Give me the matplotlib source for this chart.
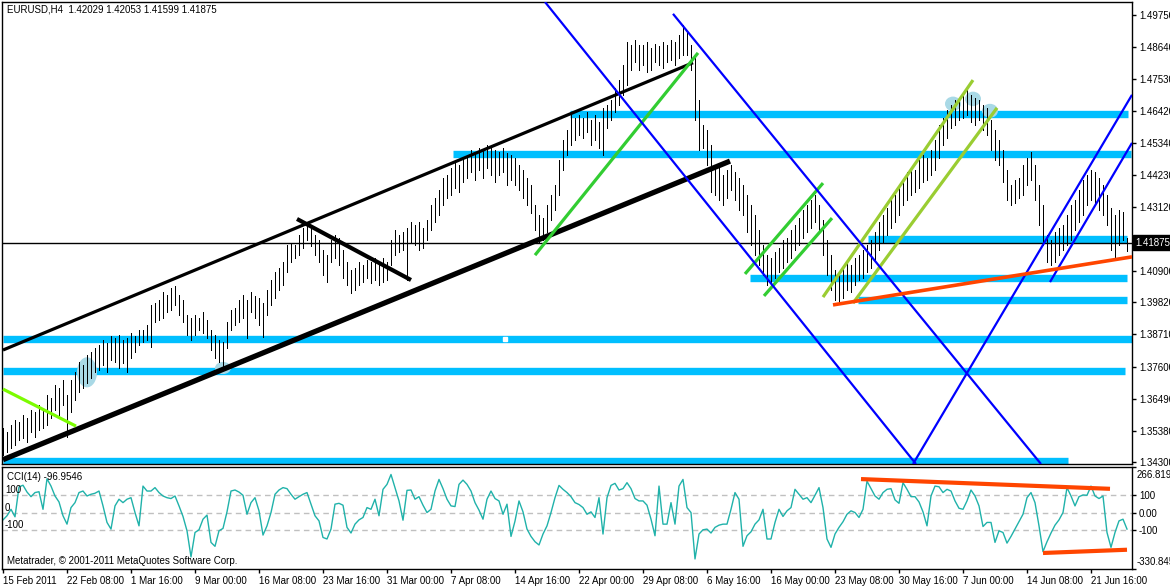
import numpy as np
import matplotlib
matplotlib.use('Agg')
import matplotlib.pyplot as plt
from matplotlib.patches import Ellipse

# H4 bars (one slot = 4 px on the screen)
hi = [
    1.3547, 1.3533, 1.3558, 1.3575, 1.3568, 1.3592, 1.3582, 1.3609, 1.3602, 1.3627, 1.3616, 1.3662, 1.3651, 1.3696, 1.3686, 1.3713,
    1.3662, 1.3713, 1.3741, 1.3775, 1.3765, 1.3799, 1.3810, 1.3824, 1.3834, 1.3851, 1.3841, 1.3865, 1.3858, 1.3869, 1.3851, 1.3858,
    1.3876, 1.3865, 1.3886, 1.3886, 1.3903, 1.3972, 1.3979, 1.3990, 1.4017, 1.4007, 1.4031, 1.4038, 1.4007, 1.3990, 1.3938, 1.3928,
    1.3938, 1.3928, 1.3948, 1.3921, 1.3886, 1.3869, 1.3851, 1.3844, 1.3914, 1.3955, 1.3962, 1.3990, 1.4007, 1.3990, 1.4017, 1.4003,
    1.3996, 1.3979, 1.4024, 1.4059, 1.4087, 1.4101, 1.4121, 1.4180, 1.4187, 1.4180, 1.4214, 1.4239, 1.4249, 1.4239, 1.4214, 1.4197,
    1.4163, 1.4145, 1.4197, 1.4214, 1.4204, 1.4163, 1.4121, 1.4094, 1.4101, 1.4121, 1.4111, 1.4128, 1.4121, 1.4135, 1.4121, 1.4135,
    1.4121, 1.4197, 1.4232, 1.4214, 1.4225, 1.4239, 1.4259, 1.4249, 1.4259, 1.4239, 1.4266, 1.4318, 1.4343, 1.4370, 1.4412, 1.4422,
    1.4446, 1.4467, 1.4457, 1.4481, 1.4491, 1.4508, 1.4501, 1.4515, 1.4508, 1.4526, 1.4515, 1.4508, 1.4501, 1.4515, 1.4498, 1.4491,
    1.4481, 1.4457, 1.4439, 1.4412, 1.4388, 1.4318, 1.4284, 1.4273, 1.4318, 1.4353, 1.4388, 1.4474, 1.4543, 1.4578, 1.4629, 1.4619,
    1.4629, 1.4619, 1.4640, 1.4612, 1.4629, 1.4605, 1.4654, 1.4664, 1.4681, 1.4723, 1.4751, 1.4803, 1.4882, 1.4872, 1.4889, 1.4872,
    1.4872, 1.4882, 1.4861, 1.4875, 1.4868, 1.4882, 1.4872, 1.4889, 1.4882, 1.4906, 1.4941, 1.4917, 1.4872, 1.4837, 1.4681, 1.4595,
    1.4578, 1.4526, 1.4457, 1.4446, 1.4422, 1.4439, 1.4457, 1.4432, 1.4412, 1.4388, 1.4353, 1.4318, 1.4284, 1.4232, 1.4180, 1.4145,
    1.4135, 1.4156, 1.4170, 1.4197, 1.4204, 1.4232, 1.4249, 1.4273, 1.4301, 1.4318, 1.4336, 1.4353, 1.4318, 1.4266, 1.4197, 1.4145,
    1.4094, 1.4076, 1.4101, 1.4121, 1.4111, 1.4135, 1.4145, 1.4163, 1.4180, 1.4197, 1.4225, 1.4259, 1.4284, 1.4308, 1.4336, 1.4353,
    1.4388, 1.4405, 1.4432, 1.4446, 1.4439, 1.4474, 1.4491, 1.4481, 1.4508, 1.4543, 1.4595, 1.4619, 1.4647, 1.4664, 1.4681, 1.4688,
    1.4699, 1.4716, 1.4699, 1.4688, 1.4681, 1.4664, 1.4654, 1.4612, 1.4578, 1.4543, 1.4508, 1.4439, 1.4388, 1.4405, 1.4412, 1.4457,
    1.4481, 1.4501, 1.4457, 1.4388, 1.4318, 1.4214, 1.4197, 1.4225, 1.4239, 1.4249, 1.4284, 1.4318, 1.4336, 1.4370, 1.4405, 1.4422,
    1.4439, 1.4432, 1.4412, 1.4388, 1.4353, 1.4308, 1.4284, 1.4301, 1.4294, 1.4205]
lo = [
    1.3454, 1.3464, 1.3478, 1.3489, 1.3506, 1.3512, 1.3499, 1.3533, 1.3516, 1.3540, 1.3547, 1.3558, 1.3582, 1.3609, 1.3592, 1.3627,
    1.3516, 1.3602, 1.3644, 1.3672, 1.3686, 1.3703, 1.3720, 1.3741, 1.3748, 1.3765, 1.3741, 1.3782, 1.3775, 1.3755, 1.3772, 1.3741,
    1.3789, 1.3810, 1.3834, 1.3844, 1.3851, 1.3827, 1.3914, 1.3921, 1.3928, 1.3948, 1.3955, 1.3972, 1.3938, 1.3914, 1.3869, 1.3851,
    1.3869, 1.3886, 1.3876, 1.3858, 1.3817, 1.3789, 1.3775, 1.3762, 1.3824, 1.3886, 1.3903, 1.3914, 1.3928, 1.3858, 1.3948, 1.3928,
    1.3903, 1.3862, 1.3938, 1.3972, 1.3996, 1.4024, 1.4041, 1.4087, 1.4121, 1.4135, 1.4145, 1.4170, 1.4197, 1.4176, 1.4145, 1.4121,
    1.4076, 1.4052, 1.4121, 1.4135, 1.4111, 1.4066, 1.4041, 1.4014, 1.4024, 1.4041, 1.4052, 1.4066, 1.4048, 1.4059, 1.4041, 1.4052,
    1.4059, 1.4111, 1.4145, 1.4156, 1.4163, 1.4059, 1.4190, 1.4180, 1.4163, 1.4170, 1.4197, 1.4232, 1.4259, 1.4284, 1.4318, 1.4343,
    1.4353, 1.4377, 1.4363, 1.4398, 1.4412, 1.4432, 1.4405, 1.4439, 1.4412, 1.4446, 1.4422, 1.4398, 1.4422, 1.4432, 1.4388, 1.4405,
    1.4388, 1.4370, 1.4343, 1.4318, 1.4291, 1.4232, 1.4187, 1.4197, 1.4225, 1.4266, 1.4301, 1.4353, 1.4439, 1.4491, 1.4526, 1.4543,
    1.4560, 1.4550, 1.4571, 1.4526, 1.4543, 1.4515, 1.4491, 1.4585, 1.4612, 1.4640, 1.4664, 1.4699, 1.4733, 1.4785, 1.4813, 1.4785,
    1.4803, 1.4778, 1.4785, 1.4813, 1.4803, 1.4792, 1.4813, 1.4820, 1.4803, 1.4827, 1.4837, 1.4837, 1.4785, 1.4612, 1.4508, 1.4515,
    1.4457, 1.4363, 1.4353, 1.4336, 1.4318, 1.4343, 1.4370, 1.4336, 1.4301, 1.4284, 1.4225, 1.4180, 1.4145, 1.4111, 1.4076, 1.4041,
    1.4041, 1.4066, 1.4087, 1.4101, 1.4121, 1.4135, 1.4163, 1.4180, 1.4204, 1.4225, 1.4239, 1.4259, 1.4225, 1.4145, 1.4076, 1.4024,
    1.3990, 1.3979, 1.3996, 1.4024, 1.4017, 1.4041, 1.4059, 1.4066, 1.4087, 1.4101, 1.4128, 1.4163, 1.4190, 1.4214, 1.4239, 1.4259,
    1.4284, 1.4318, 1.4336, 1.4353, 1.4363, 1.4377, 1.4398, 1.4405, 1.4422, 1.4439, 1.4481, 1.4526, 1.4550, 1.4585, 1.4595, 1.4612,
    1.4619, 1.4629, 1.4605, 1.4595, 1.4612, 1.4578, 1.4560, 1.4508, 1.4474, 1.4457, 1.4398, 1.4336, 1.4318, 1.4325, 1.4343, 1.4353,
    1.4388, 1.4405, 1.4336, 1.4249, 1.4180, 1.4121, 1.4111, 1.4121, 1.4145, 1.4163, 1.4180, 1.4197, 1.4232, 1.4259, 1.4284, 1.4318,
    1.4336, 1.4318, 1.4301, 1.4284, 1.4249, 1.4163, 1.4135, 1.4180, 1.4197, 1.4160]
last_close = 1.41875

cci = [
    -43, -19, 19, -25, 150, 160, 120, 93, 117, 122, 19, 198, 155, 97, 62, -19,
    -68, 29, 58, 117, 126, 97, 107, 113, 126, 39, -58, -97, 39, 78, 58, 78,
    87, 0, -78, 155, 126, 126, 146, 117, 97, 87, 82, 97, 39, -23, -107, -260,
    -117, -101, -39, -15, -175, -198, -107, -93, 4, 126, 132, 120, 101, -10, 58, 87,
    10, -132, -78, 0, 107, 132, 146, 140, 107, 78, 93, 107, 117, 49, -19, -49,
    -146, -155, -97, 49, 54, 43, -87, -120, -68, -43, -29, 29, 19, 78, -19, 136,
    165, 223, 146, 68,
    -45, 130, 132, 78, 93, 43, 0, 19, 126, 194, 140, 78, 39, 35, 165, 190,
    165, 126, 58, 14, -39, 78, 126, 82, 68, -10, 49, -140, -50, 68, 4, -97,
    -140, -171, -190, -126, -78, 0, 87, 159, 136, 117, 93, 58, 47, 29, -10, 4,
    -29, 87, -126, 87, 159, 171, 132, 140, 175, 140, 82, 68, 68, 43, -39, -136,
    155, -68, -68, 58, -68, 155, 194, 29, 0, -272, -126, -101, -97, -120, -87, -74,
    -68, -68, 19, 117, 78, -198, -136, -113, -68, -43, 19, -155, -155, -58, 19, -23,
    10, 29, 136, 107,
    78, 87, 58, 101, 146, 29, -155, -204, -126, -87, -54, -10, 10, 0, -29, 19,
    184, 140, 97, 78, 117, 136, 140, 74, 54, 175, 136, 93, 93, 62, 4, -78,
    97, 155, 151, 117, 136, 126, 68, 25, 19, 68, 132, 97, 39, -82, -58, -58,
    -175, -107, -117, -179, -140, -97, -54, -10, 87, 117, 58, -78, -229, -171, -120, -74,
    -43, 0, 146, 97, 39, 93, 103, 101, 155, 97, 82, 97, -117, -204, -117, -49,
    -39, -97]

date_labels = ['15 Feb 2011', '22 Feb 08:00', '1 Mar 16:00', '9 Mar 00:00', '16 Mar 08:00',
               '23 Mar 16:00', '31 Mar 00:00', '7 Apr 08:00', '14 Apr 16:00', '22 Apr 00:00',
               '29 Apr 08:00', '6 May 16:00', '16 May 00:00', '23 May 08:00', '30 May 16:00',
               '7 Jun 00:00', '14 Jun 08:00', '21 Jun 16:00']
price_ticks = [1.4975, 1.4864, 1.4753, 1.4642, 1.4534, 1.4423, 1.4312, 1.4201,
               1.4090, 1.3982, 1.3871, 1.3760, 1.3649, 1.3538, 1.3430]

# drawn objects: (bar, price) end points
levels = [1.4633, 1.4493, 1.4201, 1.4066, 1.3990, 1.3855, 1.3744, 1.3433]
level_from = [141.75, 112.5, 216.25, 186.75, 213.75, 0, 0, 0]
level_to = [281.25, 282.0, 281.0, 281.0, 281.0, 282.25, 280.5, 266.25]
black_upper = [(0, 1.3817), (172.5, 1.4810)]
black_lower = [(0, 1.3438), (181.75, 1.4470)]
black_short = [(73.5, 1.4270), (102, 1.4059)]
green_left = [(0, 1.3682), (18.25, 1.3554)]
green_top = [(133, 1.4145), (173.75, 1.4844)]
green_ch1 = [[(185.5, 1.4080), (205, 1.4394)], [(190.25, 1.4004), (207.25, 1.4273)]]
green_ch2 = [[(205, 1.4000), (242.5, 1.4750)], [(212.5, 1.3979), (248.5, 1.4654)]]
blue_down = [[(135.5, 1.5020), (228.25, 1.3423)], [(167.5, 1.4979), (259.5, 1.3423)]]
blue_up = [[(227.5, 1.3423), (282.25, 1.4699)], [(261.75, 1.4052), (282.25, 1.4533)]]
orange_line = [(207.5, 1.3973), (282.25, 1.4139)]
cci_top = [(214.5, 196), (276.75, 139)]
cci_bottom = [(260, -237), (281, -218)]
marks = [(21, 1.3740, 5, 0.0104), (55, 1.3755, 4, 0.0042),
         (237.5, 1.4668, 4, 0.0050), (242.5, 1.4685, 4, 0.0050), (246.75, 1.4644, 4, 0.0048)]

plt.rcParams['font.family'] = ['Liberation Sans', 'DejaVu Sans']
fs = 7
W, H = 1170, 586
fig = plt.figure(figsize=(W / 100, H / 100), dpi=100)
ax = fig.add_axes([2 / W, 1 - 464 / H, 1130 / W, 462 / H])
ac = fig.add_axes([2 / W, 1 - 569 / H, 1130 / W, 102 / H])

x = np.arange(len(hi))
xl = (-0.25, 282.25)

# price panel
ax.hlines(levels, level_from, level_to, colors='#00bfff', lw=5.3, zorder=1)
for cx, cy, w, h in marks:
    ax.add_patch(Ellipse((cx, cy), w, h, fc='#a9d9e6', ec='none', zorder=2))
ax.vlines(x, lo, hi, color='black', lw=0.6, antialiased=False, zorder=3)
ax.axhline(last_close, color='black', lw=1, zorder=2)

def seg(p, **kw):
    ax.plot([p[0][0], p[1][0]], [p[0][1], p[1][1]], solid_capstyle='butt', zorder=4, **kw)

seg(black_upper, color='black', lw=2.3)
seg(black_lower, color='black', lw=3.8)
seg(black_short, color='black', lw=3.0)
seg(green_left, color='#7cfc00', lw=2.3)
seg(green_top, color='#32cd32', lw=2.3)
for p in green_ch1:
    seg(p, color='#32cd32', lw=2.3)
for p in green_ch2:
    seg(p, color='#9acd32', lw=2.3)
for p in blue_down + blue_up:
    seg(p, color='#0000ff', lw=1.6)
seg(orange_line, color='#ff4500', lw=2.6)
ax.plot(125.5, levels[5], marker='s', ms=2.5, mfc='white', mec='white', zorder=5)

ax.set_xlim(xl)
ax.set_ylim(1.34231, 1.50199)
ax.set_xticks([])
ax.yaxis.tick_right()
ax.set_yticks(price_ticks)
ax.set_yticklabels(['%.5f' % v for v in price_ticks])
ax.tick_params(axis='y', length=3, width=1, pad=2, labelsize=fs)
ax.annotate('%.5f' % last_close, xy=(1, last_close), xycoords=('axes fraction', 'data'),
            xytext=(3, 0), textcoords='offset pixels', va='center', ha='left', fontsize=fs,
            color='white', bbox=dict(boxstyle='square,pad=0.25', fc='black', ec='black'),
            annotation_clip=False, zorder=10)
ax.text(0.0044, 0.983, 'EURUSD,H4  1.42029 1.42053 1.41599 1.41875', transform=ax.transAxes,
        va='center', ha='left', fontsize=fs)

# CCI panel
for v in [100, 0, -100]:
    ac.axhline(v, color='#c0c0c0', lw=1, ls=(0, (4, 3)), zorder=1)
ac.plot(x, cci, color='#20b2aa', lw=1, zorder=2)
for p in [cci_top, cci_bottom]:
    ac.plot([p[0][0], p[1][0]], [p[0][1], p[1][1]], color='#ff4500', lw=3, solid_capstyle='butt', zorder=3)
for v, t in [(100, '100'), (0, '0'), (-100, '-100')]:
    ac.text(0.5, v, t, va='bottom', ha='left', fontsize=fs)
ac.text(0.0044, 0.9, 'CCI(14) -96.9546', transform=ac.transAxes, va='center', ha='left', fontsize=fs)
ac.text(0.0044, 0.075, 'Metatrader, \u00a9 2001-2011 MetaQuotes Software Corp.',
        transform=ac.transAxes, va='center', ha='left', fontsize=fs)
ac.set_xlim(xl)
ac.set_ylim(-330.845, 266.8193)
ac.yaxis.tick_right()
ac.set_yticks([266.8193, 100, 0, -100, -330.845])
ac.set_yticklabels(['', '100', '0.00', '-100', ''])
for v, t, va in [(266.8193, '266.8193', 'top'), (-330.845, '-330.845', 'bottom')]:
    ac.annotate(t, xy=(1, v), xycoords=('axes fraction', 'data'), xytext=(5, -3 if va == 'top' else 2),
                textcoords='offset pixels', va=va, ha='left', fontsize=fs, annotation_clip=False)
ac.tick_params(axis='y', length=3, width=1, pad=2, labelsize=fs)
ac.set_xticks(np.arange(len(date_labels)) * 16)
ac.set_xticklabels(date_labels)
for lb in ac.get_xticklabels():
    lb.set_ha('left')
ac.tick_params(axis='x', length=3, width=1, pad=2, labelsize=fs)

for a in (ax, ac):
    for s in a.spines.values():
        s.set_linewidth(1)
        s.set_color('black')

fig.savefig('out.png', dpi=100)
